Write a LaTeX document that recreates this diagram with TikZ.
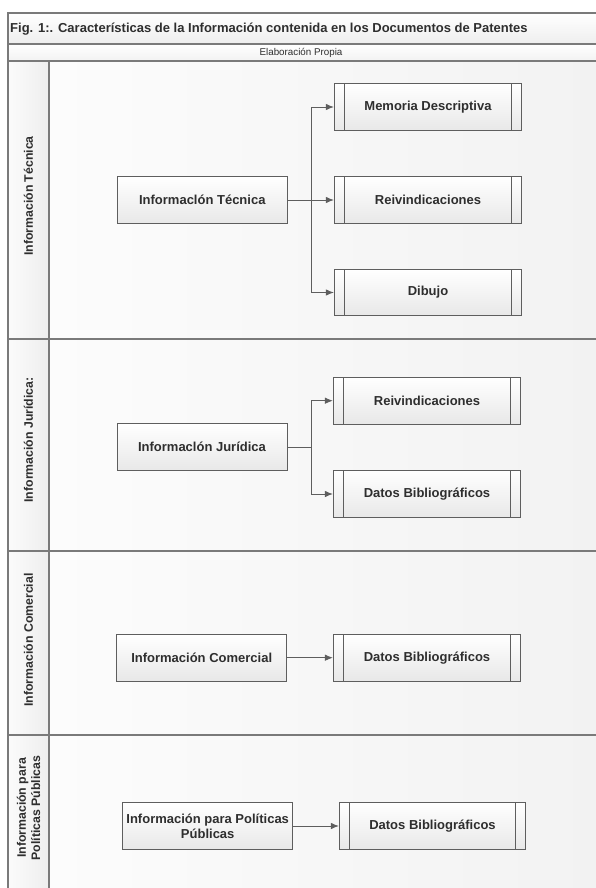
\documentclass[tikz,border=0pt]{standalone}
\usepackage{fontspec}
\setmainfont{Liberation Sans}
\usetikzlibrary{arrows.meta}
\definecolor{lc}{HTML}{5E5E5E}
\definecolor{fc}{HTML}{7A7A7A}
\definecolor{txt}{HTML}{2E2E2E}
\definecolor{boxbot}{HTML}{E8E8E8}
\definecolor{lanel}{HTML}{FCFCFC}
\definecolor{laner}{HTML}{F2F2F2}
\definecolor{colL}{HTML}{FBFBFB}
\definecolor{colR}{HTML}{EEEEEE}
\begin{document}
\begin{tikzpicture}[x=1pt,y=-1pt,
  box/.style={draw=lc, line width=0.8pt, minimum width=170pt, minimum height=46.6pt,
    top color=white, bottom color=boxbot, text=txt,
    font=\bfseries\fontsize{13}{15}\selectfont, align=center, inner sep=2pt},
  dbox/.style={box, minimum width=187.4pt,
    path picture={
      \draw[lc, line width=0.8pt]
        ([xshift=10pt]path picture bounding box.north west) -- ([xshift=10pt]path picture bounding box.south west)
        ([xshift=-10pt]path picture bounding box.north east) -- ([xshift=-10pt]path picture bounding box.south east);}},
  arr/.style={draw=lc, line width=0.9pt, -{Latex[length=8pt,width=6.5pt]}},
  frame/.style={draw=fc, line width=1.2pt},
  lanelbl/.style={rotate=90, text=txt, font=\bfseries\fontsize{12.3}{14.3}\selectfont, align=center}
]
\useasboundingbox (0,0) rectangle (596,888);
\clip (0,0) rectangle (596,888);
% header rows
\shade[top color=white, bottom color=colR] (8,13) rectangle (600,44);
\shade[top color=white, bottom color=laner] (8,44) rectangle (600,61);
% lanes backgrounds
\foreach \a/\b in {61/339, 339/551, 551/735, 735/892}{
  \shade[left color=lanel, right color=laner] (49,\a) rectangle (600,\b);
  \shade[left color=colL, right color=colR] (8,\a) rectangle (49,\b);
}
% frame lines
\draw[frame] (600,13) -- (8,13) -- (8,892);
\draw[frame] (8,44) -- (600,44);
\draw[frame] (8,61) -- (600,61);
\draw[frame] (8,339) -- (600,339);
\draw[frame] (8,551) -- (600,551);
\draw[frame] (8,735) -- (600,735);
\draw[frame] (49,61) -- (49,892);
% header texts
\node[anchor=west, text=txt, font=\bfseries\fontsize{13}{15}\selectfont, inner sep=0pt] (title) at (10,29)
  {Fig. 1:. Características de la Información contenida en los Documentos de Patentes};
\node[text=txt, font=\fontsize{9.8}{11}\selectfont, inner sep=0pt] (elab) at (301,52.5) {Elaboración Propia};
% lane labels
\node[lanelbl] (l1) at (28.5,196) {Información Técnica};
\node[lanelbl] (l2) at (28.5,440) {Información Jurídica:};
\node[lanelbl] (l3) at (28.5,640) {Información Comercial};
\node[lanelbl] (l4) at (28.5,808) {Información para\\Políticas Públicas};
% lane 1
\node[box] (tec) at (202.3,200) {Informaclón Técnica};
\node[dbox] (mem) at (428,107) {Memoria Descriptiva};
\node[dbox] (rei1) at (428,200) {Reivindicaciones};
\node[dbox] (dib) at (428,292.5) {Dibujo};
\coordinate (b1) at (311.7,200);
\draw[arr] (tec.east) -- (rei1.west);
\draw[arr] (b1) |- (mem.west);
\draw[arr] (b1) |- (dib.west);
% lane 2
\node[box] (jur) at (202,447) {Informaclón Jurídica};
\node[dbox] (rei2) at (427,400.7) {Reivindicaciones};
\node[dbox] (dat2) at (427,494) {Datos Bibliográficos};
\coordinate (b2) at (311,447);
\draw[lc, line width=0.9pt] (jur.east) -- (b2);
\draw[arr] (b2) |- (rei2.west);
\draw[arr] (b2) |- (dat2.west);
% lane 3
\node[box] (com) at (201.7,657.7) {Información Comercial};
\node[dbox] (dat3) at (427,657.7) {Datos Bibliográficos};
\draw[arr] (com.east) -- (dat3.west);
% lane 4
\node[box] (pol) at (207.7,826) {Información para Políticas\\Públicas};
\node[dbox, minimum width=186.4pt] (dat4) at (432.5,826) {Datos Bibliográficos};
\draw[arr] (pol.east) -- (dat4.west);
\end{tikzpicture}
\end{document}
